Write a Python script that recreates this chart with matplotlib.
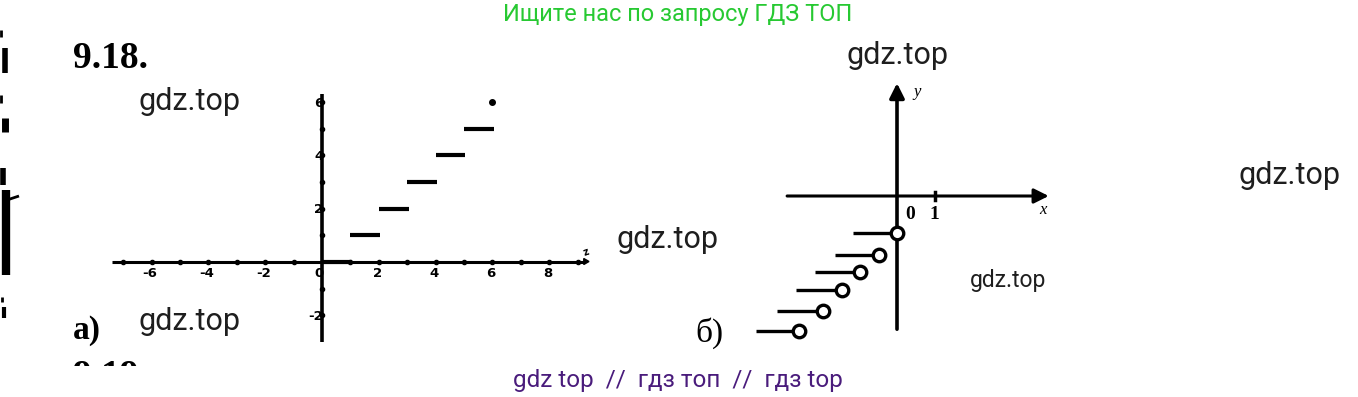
import matplotlib
matplotlib.use("Agg")
import matplotlib.pyplot as plt
from matplotlib.patches import Rectangle

# ---------------- data ----------------
# plot a): y = [x] on [0, 6]
a_step_start = [0, 1, 2, 3, 4, 5]
a_step_value = [0, 1, 2, 3, 4, 5]
a_end_point = (6, 6)
a_xticks = [-6, -4, -2, 0, 2, 4, 6, 8]
a_yticks = [6, 4, 2, -2]

# plot b): open-circle steps (units: distance from 0 to 1 on the x axis)
b_circle_x = [0.0, -0.5, -1.0, -1.5, -2.0, -2.65]
b_circle_y = [-1.0, -1.6, -2.05, -2.55, -3.1, -3.65]
b_seg_left = [-1.2, -1.68, -2.22, -2.73, -3.24, -3.8]

W, H = 1358, 397
fig = plt.figure(figsize=(W / 100, H / 100), dpi=100)
fig.patch.set_facecolor("white")

# background axes in pixel coordinates for free text
bg = fig.add_axes([0, 0, 1, 1])
bg.set_xlim(0, W)
bg.set_ylim(H, 0)
bg.axis("off")
bg.patch.set_visible(False)


def pixel_axes(ox, oy, ux, uy):
    ax = fig.add_axes([0, 0, 1, 1])
    ax.set_xlim(-ox / ux, (W - ox) / ux)
    ax.set_ylim((oy - H) / uy, oy / uy)
    ax.axis("off")
    ax.patch.set_visible(False)
    return ax

# ---------------- plot a ----------------
axA = pixel_axes(322, 262, 28.4, 26.7)
axA.plot([-7.4, 9.25], [0, 0], color="black", lw=2.2, solid_capstyle="butt")
axA.plot([0, 0], [-3.0, 6.3], color="black", lw=2.6, solid_capstyle="butt")
# tick dots
for t in range(-7, 10):
    if t != 0:
        axA.plot([t], [0], marker="o", ms=3, color="black")
for t in range(-2, 7):
    if t != 0:
        axA.plot([0], [t], marker="o", ms=3, color="black")
# small axis end marks
axA.plot([9.25], [0.05], marker=(3, 0, -90), ms=5, color="black")
axA.text(9.3, 0.35, "z", fontsize=7, fontweight="bold", ha="center", va="center",
         rotation=20)
# steps
for xs, v in zip(a_step_start, a_step_value):
    axA.plot([xs, xs + 1.05], [v, v], color="black", lw=3.0, solid_capstyle="butt")
axA.plot([a_end_point[0]], [a_end_point[1]], marker="o", ms=4, color="black")
# tick labels
for t in a_xticks:
    axA.text(t - (0.12 if t == 0 else 0.05), -0.42, str(t),
             fontsize=9.5, fontweight="bold", ha="center", va="center",
             family="DejaVu Sans")
for t in a_yticks:
    axA.text(0.05, t - 0.05, str(t), fontsize=9.5, fontweight="bold",
             ha="right", va="center", family="DejaVu Sans")

# ---------------- plot b ----------------
axB = pixel_axes(897, 196, 37.0, 37.0)
axB.annotate("", xy=(4.1, 0), xytext=(-2.97, 0),
             arrowprops=dict(arrowstyle="-|>", lw=2.2, color="black",
                             mutation_scale=22, shrinkA=0, shrinkB=0))
axB.annotate("", xy=(0, 3.05), xytext=(0, -3.6),
             arrowprops=dict(arrowstyle="-|>", lw=2.6, color="black",
                             mutation_scale=22, shrinkA=0, shrinkB=0))
axB.plot([1.02, 1.02], [-0.1, 0.1], color="black", lw=2.5)
axB.text(0.35, -0.5, "0", fontsize=14, fontweight="bold", family="Liberation Serif",
         ha="center", va="center")
axB.text(1.02, -0.5, "1", fontsize=14, fontweight="bold", family="Liberation Serif",
         ha="center", va="center")
axB.text(3.95, -0.38, "x", fontsize=12, style="italic", family="Liberation Serif",
         ha="center", va="center")
axB.text(0.55, 2.8, "y", fontsize=12, style="italic", family="Liberation Serif",
         ha="center", va="center")
for cx, cy, sl in zip(b_circle_x, b_circle_y, b_seg_left):
    axB.plot([sl, cx], [cy, cy], color="black", lw=2.4, solid_capstyle="butt", zorder=3)
    axB.plot([cx], [cy], marker="o", ms=9, mfc="white", mec="black", mew=2.4,
             zorder=4)

# ---------------- texts ----------------
bg.text(73, 58, "9.18.", fontsize=27, fontweight="bold", family="Liberation Serif",
        ha="left", va="center")
bg.text(73, 331, "a)", fontsize=24, family="Liberation Serif", fontweight="bold",
        ha="left", va="center")
bg.text(695, 333, "б)", fontsize=24, family="Liberation Serif",
        ha="left", va="center")
bg.text(73, 359, "9.19.", fontsize=27, fontweight="bold",
        family="Liberation Serif", ha="left", va="top", zorder=2)
bg.add_patch(Rectangle((0, 366), W, H - 366, facecolor="white", edgecolor="none",
                       zorder=3))

wm = dict(family="Roboto", color="#1e1e1e", ha="center", va="center", zorder=5)
bg.text(190, 102, "gdz.top", fontsize=22, **wm)
bg.text(190, 322, "gdz.top", fontsize=22, **wm)
bg.text(668, 240, "gdz.top", fontsize=22, **wm)
bg.text(897, 55, "gdz.top", fontsize=22, **wm)
bg.text(1290, 175, "gdz.top", fontsize=22, **wm)
bg.text(1008, 280, "gdz.top", fontsize=16.5, **wm)

bg.text(678, 14, "Ищите нас по запросу ГДЗ ТОП", fontsize=17, family="Roboto",
        color="#27c932", ha="center", va="center", zorder=5)
bg.text(678, 380, "gdz top  //  гдз топ  //  гдз top", fontsize=17.5, family="Roboto",
        color="#4a1c7c", ha="center", va="center", zorder=5)

# scan marks at the left edge
marks = [((1, 1), (30, 37), 2), ((4.5, 4.5), (48, 73), 4), ((1, 1), (95, 103), 2),
         ((4.5, 4.5), (118, 132), 5), ((3, 3), (168, 185), 4), ((6, 6), (190, 275), 6),
         ((7, 19), (200, 196), 2), ((1.5, 1.5), (297, 302), 2), ((3.5, 3.5), (307, 318), 3)]
for xs, ys, lw in marks:
    bg.plot(xs, ys, color="black", lw=lw, solid_capstyle="butt")

fig.savefig("out.png", dpi=100, facecolor="white")
